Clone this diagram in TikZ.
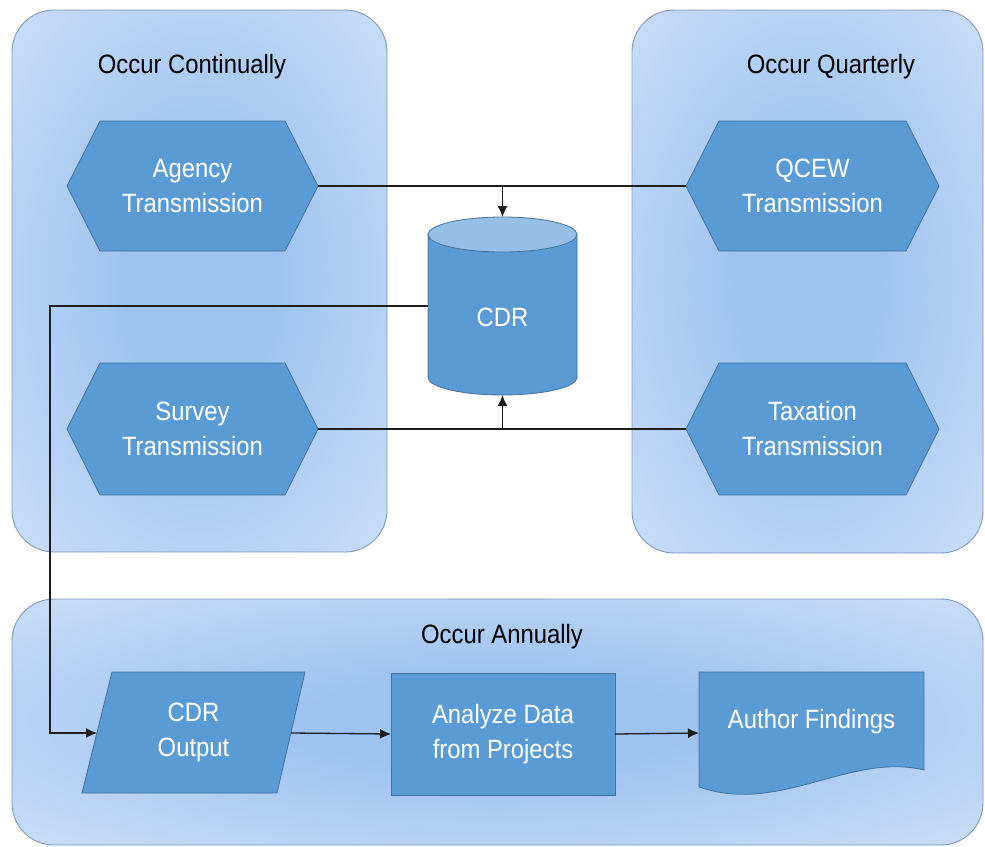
\documentclass[tikz,border=0pt]{standalone}
\usepackage{fontspec}
\setmainfont[FakeStretch=0.9]{Liberation Sans}
\usetikzlibrary{arrows.meta,calc}
\pgfdeclarelayer{panel}
\pgfdeclarelayer{bg}
\pgfsetlayers{panel,bg,main}
\definecolor{pin}{RGB}{158,195,241}
\definecolor{pout}{RGB}{226,236,250}
\definecolor{pborder}{RGB}{125,152,186}
\definecolor{sfill}{RGB}{91,155,213}
\definecolor{sborder}{RGB}{65,113,156}
\definecolor{stop}{RGB}{150,190,230}
\definecolor{lin}{RGB}{30,30,30}
\pgfdeclareradialshading{panelshade}{\pgfpoint{0bp}{0bp}}{color(0bp)=(pin); color(10bp)=(pin); color(50bp)=(pout); color(72bp)=(pout)}
\newcommand\hexshape[1]{(#1.west) -- ([xshift=33pt]#1.north west) -- ([xshift=-33pt]#1.north east) -- (#1.east) -- ([xshift=-33pt]#1.south east) -- ([xshift=33pt]#1.south west) -- cycle}
\begin{document}
\begin{tikzpicture}[x=1pt,y=-1pt,
  txt/.style={text=white, align=center, font=\fontsize{26.5}{35}\selectfont, inner sep=0pt, outer sep=0pt},
  ttl/.style={text=black, font=\fontsize{26.5}{35}\selectfont, inner sep=0pt},
  shp/.style={fill=sfill, draw=sborder, line width=0.8pt},
  panelst/.style={draw=pborder, line width=0.9pt, shading=panelshade, rounded corners=42pt},
  conn/.style={draw=lin, line width=1.3pt},
  arr/.style={conn, -{Latex[length=11pt,width=10pt]}}]
\useasboundingbox (0,0) rectangle (985,846);

% panels
\begin{pgfonlayer}{panel}
\path[panelst] (12,10) rectangle (387,552);
\path[panelst] (632,10) rectangle (983,553);
\path[panelst] (12,599) rectangle (983,845);
\end{pgfonlayer}

% titles
\node[ttl] (t1) at (192,67) {Occur Continually};
\node[ttl] (t2) at (831,67) {Occur Quarterly};
\node[ttl] (t3) at (502,637) {Occur Annually};

% nodes
\node[txt, minimum width=251, minimum height=130] (agency) at (192.5,186) {Agency\\Transmission};
\node[txt, minimum width=251, minimum height=132] (survey) at (192.5,429) {Survey\\Transmission};
\node[txt, minimum width=253, minimum height=130] (qcew) at (812.5,186) {QCEW\\Transmission};
\node[txt, minimum width=253, minimum height=132] (tax) at (812.5,429) {Taxation\\Transmission};
\node[txt, minimum width=149, minimum height=178] (cdr) at (502.5,306) {};
\node[txt] (cdrtext) at (502.5,317) {CDR};
\node[txt, minimum width=223, minimum height=121] (out) at (193.5,732.5) {CDR\\Output};
\node[txt, minimum width=224, minimum height=122] (ana) at (503,734) {Analyze Data\\from Projects};
\node[txt, minimum width=225, minimum height=100] (auth) at (811.5,722) {Author Findings};

% shapes
\begin{pgfonlayer}{bg}
\path[shp] \hexshape{agency};
\path[shp] \hexshape{survey};
\path[shp] \hexshape{qcew};
\path[shp] \hexshape{tax};
% cylinder
\path[shp] ($(cdr.north west)+(0,17.5)$) -- ($(cdr.south west)+(0,-17.5)$)
  arc[start angle=180, end angle=360, x radius=74.5pt, y radius=17.5pt]
  -- ($(cdr.north east)+(0,17.5)$) -- cycle;
\path[shp, fill=stop] ($(cdr.north)+(0,17.5)$) ellipse [x radius=74.5pt, y radius=17.5pt];
% parallelogram
\path[shp] ([xshift=30pt]out.north west) -- (out.north east) -- ([xshift=-28pt]out.south east) -- (out.south west) -- cycle;
% rectangle
\path[shp] (ana.north west) rectangle (ana.south east);
% document
\path[shp] (auth.north west) -- (auth.north east) -- ($(auth.north east)+(0,98)$)
  .. controls (850,752) and (780,815) .. ($(auth.north west)+(0,115)$) -- cycle;
\end{pgfonlayer}

% connectors
\draw[conn] (agency.east) -- (qcew.west);
\coordinate (j1) at (cdr.north |- agency.east);
\draw[arr] (j1) -- (cdr.north);
\draw[conn] (survey.east) -- (tax.west);
\coordinate (j2) at (cdr.south |- survey.east);
\draw[arr] (j2) -- (cdr.south);
\coordinate (turn) at (50,733);
\draw[arr] (cdr.west) -| (turn) -- ([xshift=15pt,yshift=-0.5pt]out.west);
\draw[arr] ([xshift=-14pt,yshift=-0.5pt]out.east) -- (ana.west);
\draw[arr] (ana.east) -- ([yshift=-11pt]auth.west);
\end{tikzpicture}
\end{document}
